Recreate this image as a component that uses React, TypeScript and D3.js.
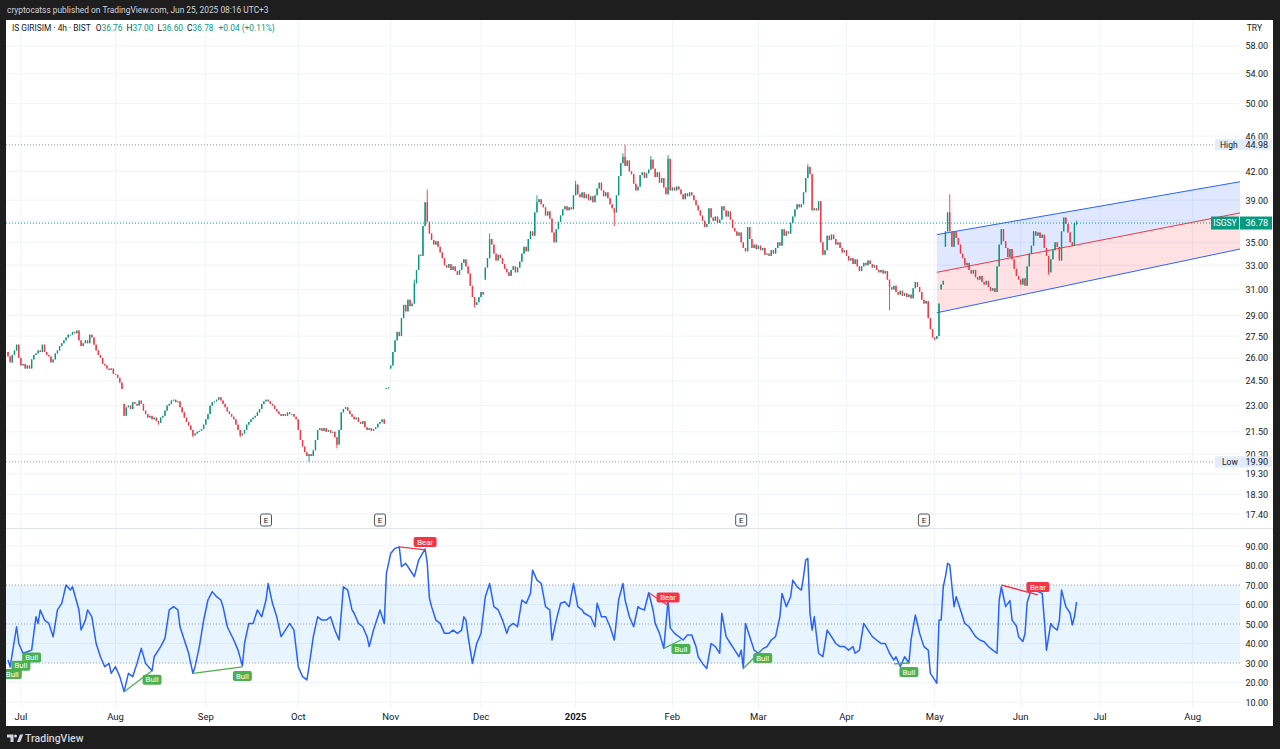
import React from 'react';
import * as d3 from 'd3';

// ---------- DATA ----------
// 4h closes, IS GIRISIM (ISGSY), bar 0 = 26 Jun 2024, last bar = 25 Jun 2025
const closes: number[] = [
  26.1, 25.7, 26.2, 26.5, 26.9, 26.0, 25.5, 25.6, 25.3, 25.5,
  25.3, 25.9, 26.2, 26.3, 26.5, 26.4, 26.9, 26.4, 26.2, 26.1,
  25.7, 25.9, 26.3, 26.5, 26.8, 27.0, 27.2, 27.4, 27.6, 27.6,
  27.8, 27.7, 27.9, 27.2, 26.8, 27.0, 27.2, 27.0, 27.6, 27.4,
  26.9, 26.5, 26.2, 26.0, 25.6, 25.5, 25.3, 25.2, 25.3, 24.95,
  24.9, 24.7, 24.4, 24.0, 22.4, 22.9, 23.0, 22.8, 23.2, 23.1,
  23.0, 23.3, 23.1, 22.7, 22.5, 22.3, 22.4, 22.2, 22.3, 22.1,
  22.0, 22.3, 22.4, 22.7, 23.0, 23.1, 23.3, 23.35, 23.2, 23.25,
  22.9, 22.6, 22.3, 22.05, 21.85, 21.6, 21.3, 21.4, 21.5, 21.55,
  21.65, 21.9, 22.2, 22.5, 23.0, 23.2, 23.25, 23.35, 23.5, 23.3,
  23.1, 22.9, 22.65, 22.5, 22.35, 22.2, 21.9, 21.6, 21.3, 21.4,
  21.6, 21.9, 22.05, 22.2, 22.3, 22.4, 22.6, 22.8, 23.1, 23.25,
  23.35, 23.25, 23.1, 23.0, 22.8, 22.65, 22.5, 22.4, 22.5, 22.4,
  22.6, 22.5, 22.5, 22.35, 22.2, 21.6, 21.05, 20.7, 20.4, 20.2,
  20.3, 20.2, 20.5, 21.05, 21.6, 21.7, 21.55, 21.7, 21.5, 21.6,
  21.45, 21.5, 21.2, 20.8, 21.6, 22.6, 22.8, 22.9, 22.7, 22.5,
  22.35, 22.2, 22.3, 22.05, 21.95, 22.1, 21.75, 21.6, 21.7, 21.55,
  21.65, 21.75, 21.95, 22.05, 22.2, 21.95, 24.05, 24.1, 25.5, 26.4,
  27.2, 27.8, 27.5, 28.8, 29.8, 29.3, 30.2, 29.7, 29.9, 31.5,
  32.6, 33.9, 33.8, 36.5, 38.8, 36.9, 35.8, 35.2, 34.8, 35.1,
  34.6, 34.1, 33.6, 33.0, 32.8, 33.1, 32.6, 32.9, 32.5, 32.2,
  32.6, 33.2, 33.5, 32.9, 32.3, 31.3, 30.4, 29.8, 30.0, 30.4,
  30.8, 30.6, 32.8, 33.6, 35.3, 34.8, 34.0, 33.4, 33.9, 33.6,
  33.1, 32.7, 32.4, 32.1, 32.6, 32.9, 32.4, 32.8, 33.3, 34.0,
  34.6, 34.2, 35.3, 36.0, 35.6, 37.8, 38.8, 39.1, 38.6, 38.3,
  37.5, 37.9, 37.2, 35.9, 35.0, 36.2, 36.9, 37.5, 38.1, 38.4,
  38.0, 38.3, 38.1, 39.5, 40.6, 39.6, 39.3, 39.8, 39.2, 39.6,
  39.0, 39.4, 38.8, 39.5, 40.2, 40.8, 40.0, 39.4, 39.8, 39.2,
  38.6, 38.2, 37.8, 39.5, 41.5, 42.9, 43.6, 42.6, 43.2, 42.0,
  41.7, 40.7, 40.0, 40.4, 41.6, 41.9, 41.3, 41.8, 42.2, 43.3,
  42.3, 41.4, 41.9, 40.8, 41.3, 40.3, 39.6, 43.4, 40.0, 40.3,
  40.0, 40.4, 40.1, 39.6, 39.1, 39.7, 39.4, 39.8, 39.5, 39.0,
  38.5, 38.0, 37.5, 37.0, 36.4, 36.7, 38.2, 37.3, 37.0, 37.4,
  36.8, 37.1, 38.4, 38.0, 37.4, 37.9, 37.1, 36.3, 36.0, 35.6,
  35.9, 35.0, 34.5, 34.2, 36.4, 35.3, 34.5, 34.8, 34.4, 34.7,
  34.3, 34.5, 33.9, 34.0, 33.8, 34.3, 34.0, 34.5, 35.0, 34.7,
  36.2, 35.6, 36.0, 35.8, 36.8, 37.4, 38.1, 38.6, 38.3, 38.6,
  39.8, 41.3, 42.5, 41.7, 38.0, 38.2, 38.0, 38.9, 35.0, 33.9,
  34.3, 35.6, 35.2, 35.7, 35.3, 34.8, 35.0, 34.5, 34.1, 34.3,
  33.8, 33.4, 33.6, 33.1, 33.5, 32.9, 32.5, 32.9, 33.2, 33.0,
  33.4, 33.1, 32.8, 33.0, 32.6, 32.4, 32.6, 32.3, 32.5, 31.8,
  31.2, 31.0, 31.3, 30.8, 30.6, 30.9, 30.5, 30.7, 30.4, 30.6,
  30.3, 31.1, 31.6, 31.2, 30.8, 30.2, 29.9, 30.1, 28.8, 28.0,
  27.4, 27.3, 27.5, 29.9, 31.4, 31.7, 36.0, 37.8, 36.0, 34.6,
  36.0, 35.4, 34.8, 34.0, 33.6, 33.0, 33.2, 32.6, 32.3, 32.6,
  32.0, 31.8, 32.1, 31.6, 31.4, 31.7, 31.2, 30.9, 31.1, 30.8,
  32.9, 34.8, 36.2, 35.1, 34.5, 33.7, 34.4, 33.5, 32.7, 32.1,
  31.8, 31.4, 31.9, 31.3, 32.9, 34.0, 34.7, 36.0, 35.6, 35.9,
  35.4, 35.7, 34.5, 33.8, 32.4, 33.5, 34.3, 35.0, 34.6, 33.4,
  36.0, 37.3, 36.7, 35.9, 35.0, 34.7, 36.74, 36.78,
];

// opens that differ from the previous close (gaps) [bar, open]
const gapOpens: [number, number][] = [
  [0, 26.4], [54, 23.1], [176, 24.0], [178, 25.3], [222, 31.8],
  [434, 31.0], [436, 34.6], [497, 36.76],
];
// wick extremes [bar, price]
const wickHighs: [number, number][] = [
  [189, 31.8], [195, 40.1], [224, 35.8], [246, 39.5], [264, 41.0], [286, 44.0],
  [287, 44.98], [299, 43.7], [307, 43.8], [372, 42.8], [438, 39.6], [497, 37.0],
];
const wickLows: [number, number][] = [
  [70, 21.9], [86, 21.2], [108, 21.2], [140, 19.9], [153, 20.6], [217, 29.6],
  [282, 36.5], [410, 29.4], [431, 27.2], [484, 32.2], [497, 36.6],
];

const rsiPoints: [number, number][] = [
  [0, 31.5], [1, 28], [4, 48.6], [5, 40], [7, 35], [9, 35.8], [11, 36.6], [13, 53.7],
  [14, 50.3], [15, 57.2], [17, 52], [19, 50.3], [21, 43.5], [23, 57.2], [25, 60.6],
  [27, 70], [29, 67.4], [30, 69.1], [33, 57.2], [34, 46.9], [36, 52], [37, 57.2],
  [39, 53.7], [41, 40], [43, 33.2], [45, 28.1], [47, 29.8], [48, 24.7], [50, 28.1],
  [52, 23], [54, 15.3], [56, 24.7], [58, 23], [60, 29.8], [62, 37.5], [64, 29.8],
  [67, 26], [68, 33.2], [71, 38.4], [73, 42.6], [75, 57.2], [77, 58.9], [79, 57.2],
  [80, 48.6], [82, 41.8], [84, 35], [86, 24.7], [87, 28.1], [89, 38.4], [91, 52],
  [93, 62.3], [95, 66.6], [97, 64], [99, 62.3], [100, 58.9], [102, 48.6], [105, 41.8],
  [107, 36.6], [109, 28.5], [110, 40], [112, 50.3], [114, 50.3], [116, 57.2],
  [118, 53.7], [120, 62.3], [121, 70.8], [123, 60.6], [125, 53.7], [127, 43.5],
  [129, 46.9], [131, 50.3], [133, 46.9], [135, 28.1], [137, 23], [139, 21.3],
  [140, 28.1], [142, 43.5], [144, 53.7], [146, 52], [148, 52], [150, 53.7],
  [152, 46.9], [154, 41.8], [156, 69.1], [158, 67.4], [160, 57.2], [161, 55.5],
  [163, 50.3], [165, 48.6], [167, 43.5], [168, 38.4], [170, 46.9], [172, 53.7],
  [173, 57.2], [175, 50.3], [176, 76], [178, 86.2], [180, 88.8], [182, 89.5],
  [183, 79.4], [185, 81.1], [187, 77.7], [189, 74.3], [191, 82.8], [194, 88.5],
  [195, 81.1], [196, 63.2], [197, 58.9], [199, 52], [201, 50.3], [203, 45.2],
  [205, 45.2], [207, 46.9], [209, 45.2], [211, 46.9], [212, 53.7], [213, 52],
  [214, 43.5], [216, 29.8], [218, 40], [220, 45.2], [222, 64], [224, 70.8],
  [226, 58.9], [228, 57.2], [230, 52], [232, 45.2], [233, 48.6], [235, 50.3],
  [237, 48.6], [239, 62.3], [241, 60.6], [243, 65.7], [244, 77.7], [246, 72.5],
  [248, 70.8], [250, 58.9], [252, 57.2], [253, 41.8], [255, 52], [257, 60.6],
  [259, 61.4], [261, 58.9], [263, 70.8], [265, 58.9], [267, 57.2], [268, 55.5],
  [271, 53.7], [273, 48.6], [274, 60.6], [276, 53.7], [278, 53.7], [280, 48.6],
  [282, 41.8], [284, 62.3], [286, 70.8], [287, 62.3], [289, 53.7], [291, 48.6],
  [293, 58.9], [294, 58], [296, 57.2], [298, 66], [300, 57.2], [301, 50.3],
  [303, 45.2], [305, 37.5], [307, 62.3], [308, 48], [310, 45.2], [312, 43.5],
  [314, 41.8], [316, 44.3], [318, 44.3], [320, 38.4], [321, 33.2], [323, 29.8],
  [325, 27.2], [327, 40], [329, 38.4], [331, 35], [332, 55.5], [334, 43.5],
  [336, 40], [338, 36.6], [340, 33.2], [341, 36.6], [342, 27.2], [343, 50.3],
  [345, 43.5], [347, 36.6], [349, 35], [351, 37.2], [353, 38.4], [355, 41.8],
  [357, 43.5], [359, 53.7], [360, 65.7], [361, 62.3], [362, 58.9], [364, 64],
  [365, 72.5], [367, 69.1], [369, 67.4], [370, 74.3], [371, 82.8], [372, 83.6],
  [373, 55.5], [374, 46.9], [375, 53.7], [377, 35], [379, 33.2], [381, 46.9],
  [383, 43.5], [385, 40], [387, 38.4], [389, 38.4], [391, 36.6], [393, 38.4],
  [394, 35], [396, 36.6], [398, 50.3], [400, 46.9], [402, 43.5], [404, 41.8],
  [406, 40], [408, 40], [410, 35], [412, 31.5], [413, 33.2], [415, 28.1],
  [417, 33.2], [419, 30], [420, 41.8], [422, 54.6], [424, 45.2], [426, 38.4],
  [428, 36.6], [429, 24.7], [431, 21.3], [432, 19.6], [433, 52], [434, 52],
  [435, 69.1], [436, 74.3], [437, 81.1], [438, 80.3], [440, 58.9], [441, 64],
  [443, 57.2], [445, 50.3], [447, 48.6], [449, 45.2], [450, 43.5], [452, 41.8],
  [454, 40.9], [456, 38.4], [458, 36.6], [460, 35], [461, 62.3], [462, 69.1],
  [464, 58.9], [466, 62], [467, 52], [469, 49], [470, 43.5], [472, 41], [473, 45],
  [474, 61], [476, 68], [479, 66.6], [481, 65.7], [482, 52], [483, 36.6],
  [485, 50.3], [486, 48.6], [488, 46.9], [489, 52], [490, 67.4], [492, 58.9],
  [494, 55.5], [495, 49.5], [496, 53.7], [497, 61.4],
];

// RSI divergences: [kind, fromBar, fromValue, toBar, toValue]
const divergences: [string, number, number, number, number][] = [
  ['Bull', -1, 0, 2, 29.0],
  ['Bull', -1, 0, 6, 33.2],
  ['Bull', -1, 0, 11, 37.4],
  ['Bull', 54, 15.3, 67, 26],
  ['Bull', 86, 24.7, 109, 28],
  ['Bear', 182, 89.5, 194, 88],
  ['Bear', 298, 66, 307, 59.5],
  ['Bull', 305, 37.5, 313, 41.8],
  ['Bull', 342, 27.2, 351, 37.2],
  ['Bull', 412, 29.5, 419, 30],
  ['Bear', 462, 70, 479, 64.9],
];

// linear regression channel (start bar, end bar) and its prices
const channelBars = [432, 573];
const channelUpper = [35.7, 40.9];
const channelMid = [32.4, 37.75];
const channelLower = [29.2, 34.4];

const priceTicks = [58, 54, 50, 46, 42, 39, 37, 35, 33, 31, 29, 27.5, 26, 24.5, 23, 21.5, 20.3, 19.3, 18.3, 17.4];
const rsiTicks = [90, 80, 70, 60, 50, 40, 30, 20, 10];
const rsiLevels = [70, 50, 30];
const monthLabels = ['Jul', 'Aug', 'Sep', 'Oct', 'Nov', 'Dec', '2025', 'Feb', 'Mar', 'Apr', 'May', 'Jun', 'Jul', 'Aug'];
const monthStartBars = [6, 50, 92, 135, 178, 220, 264, 309, 349, 390, 431, 471, 508, 551];
const earningsBars = [120, 173, 341, 426];

const symbol = 'ISGSY';
const titleName = 'IS GIRISIM · 4h · BIST';
const headerText = 'cryptocatss published on TradingView.com, Jun 25, 2025 08:16 UTC+3';

// ---------- STYLE ----------
const UP = '#089981';
const DOWN = '#f23645';
const FONT = "Roboto, 'Liberation Sans', Arial, sans-serif";
const GRID = '#f0f3fa';
const TEXT = '#131722';

export default function App() {
  const L = 6, R = 1240, RIGHT = 1273;
  const mainTop = 20, mainBottom = 527;
  const rsiTop = 529, rsiBottom = 708;

  const x = d3.scaleLinear().domain([0, 573]).range([8, 1240]);
  const y = d3.scaleLog().domain([16.83, 62.0]).range([mainBottom, mainTop]);
  const ry = d3.scaleLinear().domain([0, 100]).range([721.5, 526.5]);
  const f2 = d3.format('.2f');

  const gapMap = new Map(gapOpens);
  const hiMap = new Map(wickHighs);
  const loMap = new Map(wickLows);
  const candles = closes.map((c, i) => {
    const o = gapMap.has(i) ? (gapMap.get(i) as number) : closes[i - 1];
    const h = Math.max(o, c, hiMap.get(i) ?? -Infinity);
    const l = Math.min(o, c, loMap.get(i) ?? Infinity);
    return { i, o, h, l, c };
  });
  const last = candles[candles.length - 1];
  const prevClose = closes[closes.length - 2];
  const chg = last.c - prevClose;
  const chgPct = (chg / prevClose) * 100;
  const hiVal = d3.max(candles, (d) => d.h) as number;
  const loVal = d3.min(candles, (d) => d.l) as number;

  const rsiLine = d3.line<[number, number]>().x((d) => x(d[0])).y((d) => ry(d[1]));

  const chTop = channelBars.map((b, k) => [x(b), y(channelUpper[k])]);
  const chMid = channelBars.map((b, k) => [x(b), y(channelMid[k])]);
  const chLow = channelBars.map((b, k) => [x(b), y(channelLower[k])]);
  const poly = (a: number[][], b: number[][]) =>
    `M${a[0][0]},${a[0][1]}L${a[1][0]},${a[1][1]}L${b[1][0]},${b[1][1]}L${b[0][0]},${b[0][1]}Z`;

  return (
    <div style={{ position: 'fixed', left: 0, top: 0, width: 1280, height: 749 }}>
      <svg width={1280} height={749} style={{ display: 'block', fontFamily: FONT }}>
        <defs>
          <clipPath id="mainClip"><rect x={L} y={mainTop} width={R - L} height={mainBottom - mainTop} /></clipPath>
          <clipPath id="rsiClip"><rect x={L} y={rsiTop} width={R - L} height={rsiBottom - rsiTop} /></clipPath>
        </defs>
        <rect x={0} y={0} width={1280} height={749} fill="#1e1e1e" />
        <rect x={L} y={mainTop} width={RIGHT - L} height={726 - mainTop} fill="#ffffff" />
        <text x={7} y={13} fontSize={8.4} fill="#d1d4dc">{headerText}</text>

        {/* grids */}
        <g>
          {monthStartBars.map((b, k) => (
            <g key={'vg' + k}>
              <line x1={x(b)} x2={x(b)} y1={mainTop} y2={mainBottom} stroke={GRID} />
              <line x1={x(b)} x2={x(b)} y1={rsiTop} y2={rsiBottom} stroke={GRID} />
            </g>
          ))}
          {priceTicks.map((p) => (
            <line key={'hg' + p} x1={L} x2={R} y1={y(p)} y2={y(p)} stroke={GRID} />
          ))}
          {rsiTicks.filter((t) => !rsiLevels.includes(t)).map((t) => (
            <line key={'rg' + t} x1={L} x2={R} y1={ry(t)} y2={ry(t)} stroke={GRID} />
          ))}
        </g>

        {/* regression channel */}
        <g clipPath="url(#mainClip)">
          <path d={poly(chTop, chMid)} fill="#2962ff" fillOpacity={0.15} />
          <path d={poly(chMid, chLow)} fill="#f23645" fillOpacity={0.15} />
          <line x1={chTop[0][0]} y1={chTop[0][1]} x2={chTop[1][0]} y2={chTop[1][1]} stroke="#2962ff" strokeWidth={1} />
          <line x1={chMid[0][0]} y1={chMid[0][1]} x2={chMid[1][0]} y2={chMid[1][1]} stroke="#f23645" strokeWidth={1} />
          <line x1={chLow[0][0]} y1={chLow[0][1]} x2={chLow[1][0]} y2={chLow[1][1]} stroke="#2962ff" strokeWidth={1} />
        </g>

        {/* high / low / last price lines */}
        <line x1={L} x2={1215} y1={y(hiVal)} y2={y(hiVal)} stroke="#9598a1" strokeDasharray="1,2" />
        <line x1={L} x2={1215} y1={y(loVal)} y2={y(loVal)} stroke="#9598a1" strokeDasharray="1,2" />
        <line x1={L} x2={1211} y1={y(last.c)} y2={y(last.c)} stroke={UP} strokeDasharray="1,2" />

        {/* candles */}
        <g clipPath="url(#mainClip)">
          {candles.map((d) => {
            const col = d.c >= d.o ? UP : DOWN;
            const cx = x(d.i);
            const top = y(Math.max(d.o, d.c));
            const bot = y(Math.min(d.o, d.c));
            return (
              <g key={d.i}>
                <line x1={cx} x2={cx} y1={y(d.h)} y2={y(d.l)} stroke={col} strokeWidth={0.9} />
                <rect x={cx - 0.7} y={top} width={1.4} height={Math.max(1, bot - top)} fill={col} />
              </g>
            );
          })}
        </g>

        {/* earnings markers */}
        {earningsBars.map((b) => (
          <g key={'e' + b}>
            <rect x={x(b) - 5.5} y={514} width={11} height={12} rx={2} fill="#fff" stroke="#50535e" strokeWidth={1} />
            <text x={x(b)} y={523} fontSize={8} textAnchor="middle" fill={TEXT}>E</text>
          </g>
        ))}

        {/* pane separator */}
        <line x1={L} x2={RIGHT} y1={528.5} y2={528.5} stroke="#e0e3eb" />

        {/* RSI pane */}
        <rect x={L} y={ry(70)} width={R - L} height={ry(30) - ry(70)} fill="#2196f3" fillOpacity={0.1} />
        {rsiLevels.map((t) => (
          <line key={'lv' + t} x1={L} x2={R} y1={ry(t)} y2={ry(t)} stroke="#787b86" strokeOpacity={0.7} strokeDasharray="1,2" />
        ))}
        <g clipPath="url(#rsiClip)">
          <path d={rsiLine(rsiPoints) as string} fill="none" stroke="#2962ff" strokeWidth={1.5} strokeLinejoin="round" />
          {divergences.map((dv, k) => {
            const [kind, b1, v1, b2, v2] = dv;
            const col = kind === 'Bull' ? '#4caf50' : '#f23645';
            const px = x(b2), py = ry(v2);
            const w = kind === 'Bull' ? 19 : 23;
            const bx = px - w / 2;
            const by = kind === 'Bull' ? py + 4 : py - 13;
            return (
              <g key={'dv' + k}>
                {b1 >= 0 && (
                  <line x1={x(b1)} y1={ry(v1)} x2={px} y2={py} stroke={col} strokeWidth={1.3} />
                )}
                <rect x={bx} y={by} width={w} height={10} rx={2} fill={col} />
                <text x={px} y={by + 7.6} fontSize={7.8} textAnchor="middle" fill="#fff">{kind}</text>
              </g>
            );
          })}
        </g>

        {/* price axis */}
        {priceTicks.map((p) => (
          <text key={'pt' + p} x={1268} y={y(p) + 3.5} fontSize={9} textAnchor="end" fill={TEXT}>{f2(p)}</text>
        ))}
        <text x={1262} y={31} fontSize={8.5} textAnchor="end" fill={TEXT}>TRY</text>
        {rsiTicks.map((t) => (
          <text key={'rt' + t} x={1268} y={ry(t) + 3.5} fontSize={9} textAnchor="end" fill={TEXT}>{f2(t)}</text>
        ))}

        {/* High / Low / last labels */}
        <rect x={1215} y={y(hiVal) - 5.5} width={57} height={11} fill="#e3ecfa" />
        <text x={1220} y={y(hiVal) + 3.2} fontSize={8.5} fill={TEXT}>High</text>
        <text x={1268} y={y(hiVal) + 3.2} fontSize={9} textAnchor="end" fill={TEXT}>{f2(hiVal)}</text>
        <rect x={1215} y={y(loVal) - 5.5} width={57} height={11} fill="#e3ecfa" />
        <text x={1222} y={y(loVal) + 3.2} fontSize={8.5} fill={TEXT}>Low</text>
        <text x={1268} y={y(loVal) + 3.2} fontSize={9} textAnchor="end" fill={TEXT}>{f2(loVal)}</text>
        <rect x={1211} y={y(last.c) - 6.5} width={28} height={13} fill={UP} />
        <text x={1225} y={y(last.c) + 3.3} fontSize={8.5} textAnchor="middle" fill="#fff">{symbol}</text>
        <rect x={1240} y={y(last.c) - 6.5} width={32} height={13} fill={UP} />
        <text x={1268} y={y(last.c) + 3.3} fontSize={9} textAnchor="end" fill="#fff">{f2(last.c)}</text>

        {/* time axis */}
        {monthLabels.map((m, k) => (
          <text key={'m' + k} x={x(monthStartBars[k])} y={720} fontSize={9.5} textAnchor="middle"
            fill={TEXT} fontWeight={m === '2025' ? 700 : 400}>{m}</text>
        ))}

        {/* legend */}
        <text x={12} y={30.5} fontSize={8.4} fill={TEXT}>
          <tspan>{titleName}</tspan>
          <tspan dx={5}>O</tspan><tspan fill={UP}>{f2(last.o)}</tspan>
          <tspan dx={4}>H</tspan><tspan fill={UP}>{f2(last.h)}</tspan>
          <tspan dx={4}>L</tspan><tspan fill={UP}>{f2(last.l)}</tspan>
          <tspan dx={4}>C</tspan><tspan fill={UP}>{f2(last.c)}</tspan>
          <tspan dx={5} fill={UP}>{(chg >= 0 ? '+' : '') + f2(chg) + ' (' + (chgPct >= 0 ? '+' : '') + f2(chgPct) + '%)'}</tspan>
        </text>

        {/* footer logo */}
        <g fill="#d1d4dc">
          <path d="M7,734.5 h6.5 v7.5 h-3 v-4.5 h-3.5 z" />
          <circle cx={15.5} cy={736} r={1.5} />
          <path d="M17,742 l3,-7.5 h3.2 l-3,7.5 z" />
          <text x={25} y={742} fontSize={10.5} fontWeight={500}>TradingView</text>
        </g>
      </svg>
    </div>
  );
}
